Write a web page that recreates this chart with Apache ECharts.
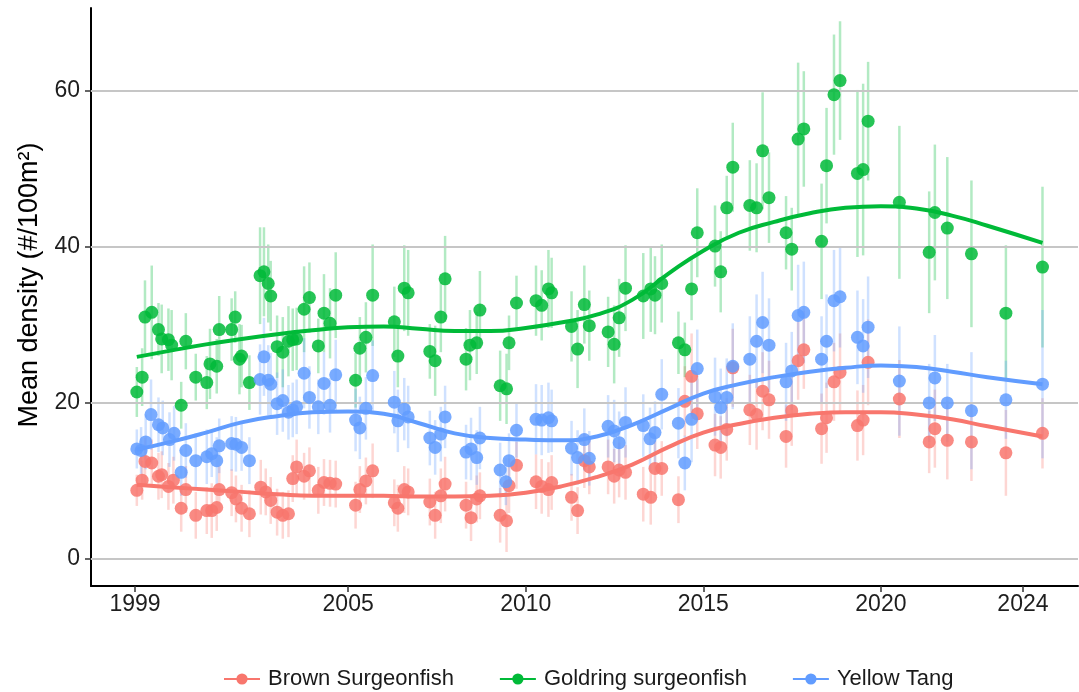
<!DOCTYPE html>
<html>
<head>
<meta charset="utf-8">
<script src="https://cdn.jsdelivr.net/npm/echarts@6/dist/echarts.min.js"></script>
<style>
html,body{margin:0;padding:0;background:#fff;}
#chart{width:1079px;height:692px;}
</style>
</head>
<body>
<div id="chart"></div>
<script>
// ---- Goldring surgeonfish ----
const gYears = [1999.05,1999.20,1999.28,1999.47,1999.66,1999.75,1999.94,2000.03,2000.30,2000.43,2000.71,2001.02,2001.11,2001.30,2001.37,2001.72,2001.82,2001.94,2002.00,2002.22,2002.52,2002.63,2002.75,2002.82,2003.00,2003.16,2003.32,2003.44,2003.55,2003.76,2003.91,2004.16,2004.32,2004.49,2004.65,2005.21,2005.33,2005.50,2005.69,2006.30,2006.40,2006.58,2006.69,2007.30,2007.45,2007.61,2007.73,2008.32,2008.43,2008.62,2008.71,2009.28,2009.46,2009.53,2009.74,2010.29,2010.45,2010.64,2010.73,2011.29,2011.46,2011.65,2011.79,2012.32,2012.49,2012.63,2012.81,2013.31,2013.52,2013.64,2013.83,2014.30,2014.48,2014.67,2014.83,2015.33,2015.49,2015.66,2015.83,2016.31,2016.50,2016.67,2016.85,2017.33,2017.49,2017.67,2017.83,2018.33,2018.47,2018.68,2018.85,2019.34,2019.50,2019.64,2020.52,2021.36,2021.52,2021.87,2022.55,2023.52,2024.55];
const gVals = [21.4,23.3,31.0,31.6,29.4,28.2,28.1,27.4,19.7,27.9,23.3,22.6,25.0,24.7,29.4,29.4,31.0,25.6,26.0,22.6,36.3,36.8,35.3,33.7,27.2,26.5,27.9,28.1,28.2,32.0,33.5,27.3,31.5,30.2,33.8,22.9,27.0,28.4,33.8,30.4,26.0,34.7,34.1,26.6,25.4,31.0,35.9,25.6,27.4,27.7,31.9,22.2,21.8,27.7,32.8,33.1,32.5,34.6,34.1,29.8,26.9,32.6,29.9,29.1,27.5,30.9,34.7,33.7,34.6,33.8,35.3,27.7,26.8,34.6,41.8,40.1,36.8,45.0,50.2,45.3,45.0,52.3,46.3,41.8,39.7,53.8,55.1,40.7,50.4,59.5,61.3,49.4,49.9,56.1,45.7,39.3,44.4,42.4,39.1,31.5,37.4];
const gErr = [3.2,3.7,4.7,6.0,3.4,4.4,4.0,4.5,3.0,3.6,3.0,3.4,4.5,3.5,4.3,4.0,3.3,4.5,4.0,3.5,6.2,5.7,5.0,4.5,4.0,4.5,4.5,4.0,4.0,5.5,4.5,3.5,5.0,4.5,5.5,3.5,4.0,4.5,6.5,4.5,4.0,5.5,5.5,3.5,4.5,4.5,5.5,4.0,4.5,4.0,5.0,4.5,4.5,3.5,3.5,4.5,4.5,5.0,4.5,4.5,5.0,5.0,4.5,4.5,5.0,5.0,5.5,5.5,5.5,5.0,5.0,4.0,3.5,4.0,5.7,5.2,5.2,4.1,5.7,5.8,5.7,7.5,5.8,4.7,5.3,9.8,7.4,7.4,7.4,7.7,7.6,10.7,11.0,7.6,9.8,7.8,8.7,9.1,9.4,8.7,10.3];

// ---- Yellow Tang ----
const bYears = [1999.05,1999.17,1999.30,1999.45,1999.66,1999.78,1999.97,2000.10,2000.30,2000.43,2000.71,2001.02,2001.16,2001.30,2001.37,2001.72,2001.84,2002.00,2002.22,2002.52,2002.63,2002.75,2002.82,2003.00,2003.16,2003.32,2003.44,2003.55,2003.76,2003.91,2004.16,2004.32,2004.49,2004.65,2005.21,2005.33,2005.50,2005.69,2006.30,2006.40,2006.58,2006.69,2007.30,2007.45,2007.61,2007.73,2008.32,2008.46,2008.62,2008.71,2009.28,2009.44,2009.53,2009.74,2010.29,2010.45,2010.64,2010.73,2011.29,2011.46,2011.65,2011.79,2012.32,2012.49,2012.63,2012.81,2013.31,2013.50,2013.64,2013.83,2014.30,2014.48,2014.67,2014.83,2015.33,2015.49,2015.66,2015.83,2016.31,2016.50,2016.67,2016.85,2017.33,2017.49,2017.67,2017.83,2018.33,2018.47,2018.68,2018.85,2019.34,2019.50,2019.64,2020.52,2021.36,2021.52,2021.87,2022.55,2023.52,2024.55];
const bVals = [14.1,13.9,15.0,18.5,17.2,16.8,15.3,16.1,11.1,13.9,12.6,13.1,13.5,12.6,14.5,14.8,14.7,14.3,12.6,23.0,25.9,22.9,22.4,19.9,20.3,18.8,19.1,19.5,23.8,20.7,19.5,22.5,19.7,23.6,17.8,16.8,19.3,23.5,20.1,17.7,19.2,18.2,15.5,14.3,16.0,18.2,13.7,14.1,13.0,15.5,11.4,9.9,12.6,16.5,17.9,17.8,18.1,17.7,14.2,13.0,15.3,12.9,17.0,16.4,14.9,17.5,17.1,15.4,16.2,21.1,17.4,12.3,17.9,24.4,20.8,19.4,20.7,24.7,25.6,27.9,30.3,27.4,22.7,24.1,31.2,31.6,25.6,27.9,33.1,33.6,28.4,27.3,29.7,22.8,20.0,23.2,20.0,19.0,20.4,22.4];
const bErr = [2.5,3.0,3.5,4.5,3.5,3.5,3.5,3.5,3.0,3.5,3.5,3.5,3.0,3.0,3.5,3.5,3.5,3.0,3.0,4.5,5.0,4.5,4.0,4.0,4.0,3.5,3.5,3.5,4.5,4.0,3.5,4.0,3.5,4.5,4.0,4.0,4.0,4.5,4.0,4.0,4.0,4.0,3.5,3.5,3.5,4.0,3.5,4.0,3.5,4.0,3.5,3.0,3.5,3.5,4.5,4.5,4.5,4.0,3.5,3.5,4.0,3.5,4.0,4.0,4.0,4.5,4.0,4.0,4.0,4.5,4.5,3.5,5.5,5.0,5.0,5.0,5.0,5.5,5.5,6.0,6.5,6.0,5.0,5.0,6.5,6.5,5.5,6.0,6.5,6.5,6.0,6.0,6.5,7.0,5.0,5.5,5.0,7.5,5.0,9.5];

// ---- Brown Surgeonfish ----
const rYears = [1999.05,1999.20,1999.28,1999.47,1999.66,1999.75,1999.94,2000.08,2000.30,2000.43,2000.71,2001.02,2001.16,2001.30,2001.37,2001.72,2001.84,2002.00,2002.22,2002.54,2002.68,2002.82,2003.00,2003.16,2003.32,2003.44,2003.55,2003.76,2003.91,2004.16,2004.32,2004.49,2004.65,2005.21,2005.33,2005.50,2005.69,2006.30,2006.40,2006.58,2006.69,2007.30,2007.45,2007.61,2007.73,2008.32,2008.46,2008.62,2008.71,2009.28,2009.46,2009.53,2009.74,2010.29,2010.45,2010.64,2010.73,2011.29,2011.46,2011.65,2011.79,2012.32,2012.49,2012.63,2012.81,2013.31,2013.52,2013.64,2013.83,2014.30,2014.48,2014.67,2014.83,2015.33,2015.49,2015.66,2015.83,2016.31,2016.50,2016.67,2016.85,2017.33,2017.49,2017.67,2017.83,2018.33,2018.47,2018.68,2018.85,2019.34,2019.50,2019.64,2020.52,2021.36,2021.52,2021.87,2022.55,2023.52,2024.55];
const rVals = [8.8,10.1,12.5,12.3,10.6,10.8,9.3,10.1,6.5,8.9,5.6,6.2,6.2,6.6,8.9,8.5,7.7,6.5,5.8,9.2,8.6,7.5,6.0,5.6,5.8,10.3,11.8,10.6,11.3,8.8,9.8,9.7,9.6,6.9,8.9,10.0,11.3,7.2,6.5,8.9,8.6,7.3,5.6,8.1,9.6,6.9,5.3,7.7,8.1,5.6,4.9,9.4,12.0,9.9,9.3,8.9,9.8,7.9,6.2,12.6,11.8,11.8,10.6,11.4,11.1,8.3,7.9,11.6,11.6,7.6,20.2,23.4,18.6,14.6,14.3,16.6,24.5,19.1,18.5,21.5,20.4,15.7,19.0,25.4,26.8,16.7,18.1,22.7,23.9,17.1,17.8,25.2,20.5,15.0,16.7,15.2,15.0,13.6,16.1];
const rErr = [2.0,2.5,3.0,3.0,3.0,3.0,3.0,3.0,3.0,3.0,3.0,3.0,3.5,3.0,3.0,3.0,3.0,3.0,3.0,3.5,3.0,3.0,3.0,3.0,3.0,3.0,3.5,3.0,3.0,3.0,3.0,3.0,3.0,3.0,3.0,3.0,3.5,3.0,3.0,3.0,3.0,3.0,3.0,3.5,3.5,3.0,3.0,3.0,3.0,3.5,4.0,3.5,3.0,3.5,3.5,3.5,3.5,3.0,3.0,3.5,3.5,3.5,3.5,3.5,3.5,3.5,3.5,3.5,3.5,3.0,4.5,5.5,4.5,4.0,4.0,4.0,5.0,4.5,4.5,5.0,5.0,4.0,4.5,5.0,5.0,4.5,4.5,5.0,5.0,4.5,4.5,5.5,5.0,4.0,5.0,5.0,5.0,5.5,4.5];

// ---- Smoothed trends ----
const sYears   = [1999.05,2000,2001,2002,2003,2004,2005,2006,2007,2008,2009,2010,2011,2012,2013,2014,2015,2016,2017,2018,2019,2020,2021,2022,2023,2024.55];
const gSmooth  = [25.9,26.7,27.5,28.2,28.8,29.3,29.7,29.8,29.5,29.2,29.2,29.6,30.3,31.3,33.2,36.5,39.5,41.8,43.2,44.3,45.0,45.2,44.9,44.0,42.7,40.5];
const bSmooth  = [14.0,15.0,16.2,17.5,18.3,18.8,18.9,18.6,17.4,16.1,15.5,15.3,15.2,15.7,17.2,19.2,21.2,22.4,23.3,24.0,24.5,24.8,24.6,24.0,23.3,22.4];
const rSmooth  = [9.5,9.2,8.9,8.6,8.3,8.1,8.1,8.1,8.0,8.0,8.1,8.5,9.3,10.5,12.1,14.3,16.2,17.3,18.1,18.6,18.8,18.8,18.5,17.9,17.0,15.7];

const xTicks = [1999,2005,2010,2015,2020,2024];
const yTicks = [0,20,40,60];
const names = ['Brown Surgeonfish','Goldring surgeonfish','Yellow Tang'];
const colors = ['#F8766D','#00BA38','#619CFF'];
const yTitle = 'Mean density (#/100m²)';

function pairs(xs, ys){ return xs.map((x,i)=>[x, ys[i]]); }
function bars(xs, ys, es){ return xs.map((x,i)=>[x, ys[i]-es[i], ys[i]+es[i]]); }

const groups = [
  {name:names[0], color:colors[0], years:rYears, vals:rVals, err:rErr, smooth:rSmooth},
  {name:names[1], color:colors[1], years:gYears, vals:gVals, err:gErr, smooth:gSmooth},
  {name:names[2], color:colors[2], years:bYears, vals:bVals, err:bErr, smooth:bSmooth}
];

const FONT = 'Liberation Sans, Arial, sans-serif';
const series = [];
groups.forEach((g,k)=>{
  series.push({
    name:g.name, type:'line', smooth:0.5, data:pairs(sYears, g.smooth),
    symbol:'circle', symbolSize:12, showSymbol:false,
    lineStyle:{color:g.color, width:4}, itemStyle:{color:g.color},
    z:10+k, silent:true
  });
});
// horizontal grid lines at the tick values
series.push({
  type:'line', data:[], silent:true, z:1,
  markLine:{silent:true, symbol:'none', animation:false, label:{show:false},
    lineStyle:{color:'#c6c6c6', width:2, type:'solid'},
    data:yTicks.map(v=>({yAxis:v}))}
});
groups.forEach((g,k)=>{
  series.push({
    name:g.name, type:'custom', data:bars(g.years, g.vals, g.err), z:2,
    encode:{x:0, y:[1,2]},
    renderItem:function(params, api){
      const x = api.value(0);
      const p1 = api.coord([x, api.value(1)]);
      const p2 = api.coord([x, api.value(2)]);
      return {type:'line', shape:{x1:p1[0], y1:p1[1], x2:p2[0], y2:p2[1]},
        style:{stroke:g.color, lineWidth:2.5, opacity:0.3}};
    },
    silent:true
  });
});
groups.forEach((g,k)=>{
  series.push({
    name:g.name, type:'scatter', data:pairs(g.years, g.vals),
    symbol:'circle', symbolSize:13, z:5+k,
    itemStyle:{color:g.color, opacity:0.85}, silent:true
  });
});

const chart = echarts.init(document.getElementById('chart'), null, {renderer:'canvas'});
chart.setOption({
  animation:false,
  backgroundColor:'#ffffff',
  grid:{left:91, right:1, top:8, bottom:106, containLabel:false},
  graphic:[{
    type:'text', x:30, y:285, rotation:Math.PI/2,
    style:{text:yTitle, font:'27px Liberation Sans, Arial, sans-serif', fill:'#000',
      textAlign:'center', textVerticalAlign:'middle'}
  }],
  legend:{
    top:663, left:218, itemGap:45, itemWidth:36, itemHeight:14,
    data:names,
    textStyle:{fontFamily:FONT, fontSize:22, color:'#1a1a1a', padding:[0,0,0,3]}
  },
  xAxis:{
    type:'value', min:1997.76, max:2025.55,
    splitLine:{show:false},
    axisLine:{show:true, onZero:false, lineStyle:{color:'#000', width:2}},
    axisTick:{show:true, length:6, lineStyle:{color:'#333', width:1.5}, customValues:xTicks},
    axisLabel:{customValues:xTicks, fontFamily:FONT, fontSize:23, color:'#1e1e1e', margin:7,
      formatter:v=>String(v)}
  },
  yAxis:{
    type:'value', min:-3.46, max:70.6,
    splitLine:{show:false},
    axisLine:{show:true, onZero:false, lineStyle:{color:'#000', width:2}},
    axisTick:{show:true, length:6, lineStyle:{color:'#333', width:1.5}, customValues:yTicks},
    axisLabel:{customValues:yTicks, fontFamily:FONT, fontSize:23, color:'#1e1e1e', margin:11}
  },
  series:series
});
</script>
</body>
</html>
